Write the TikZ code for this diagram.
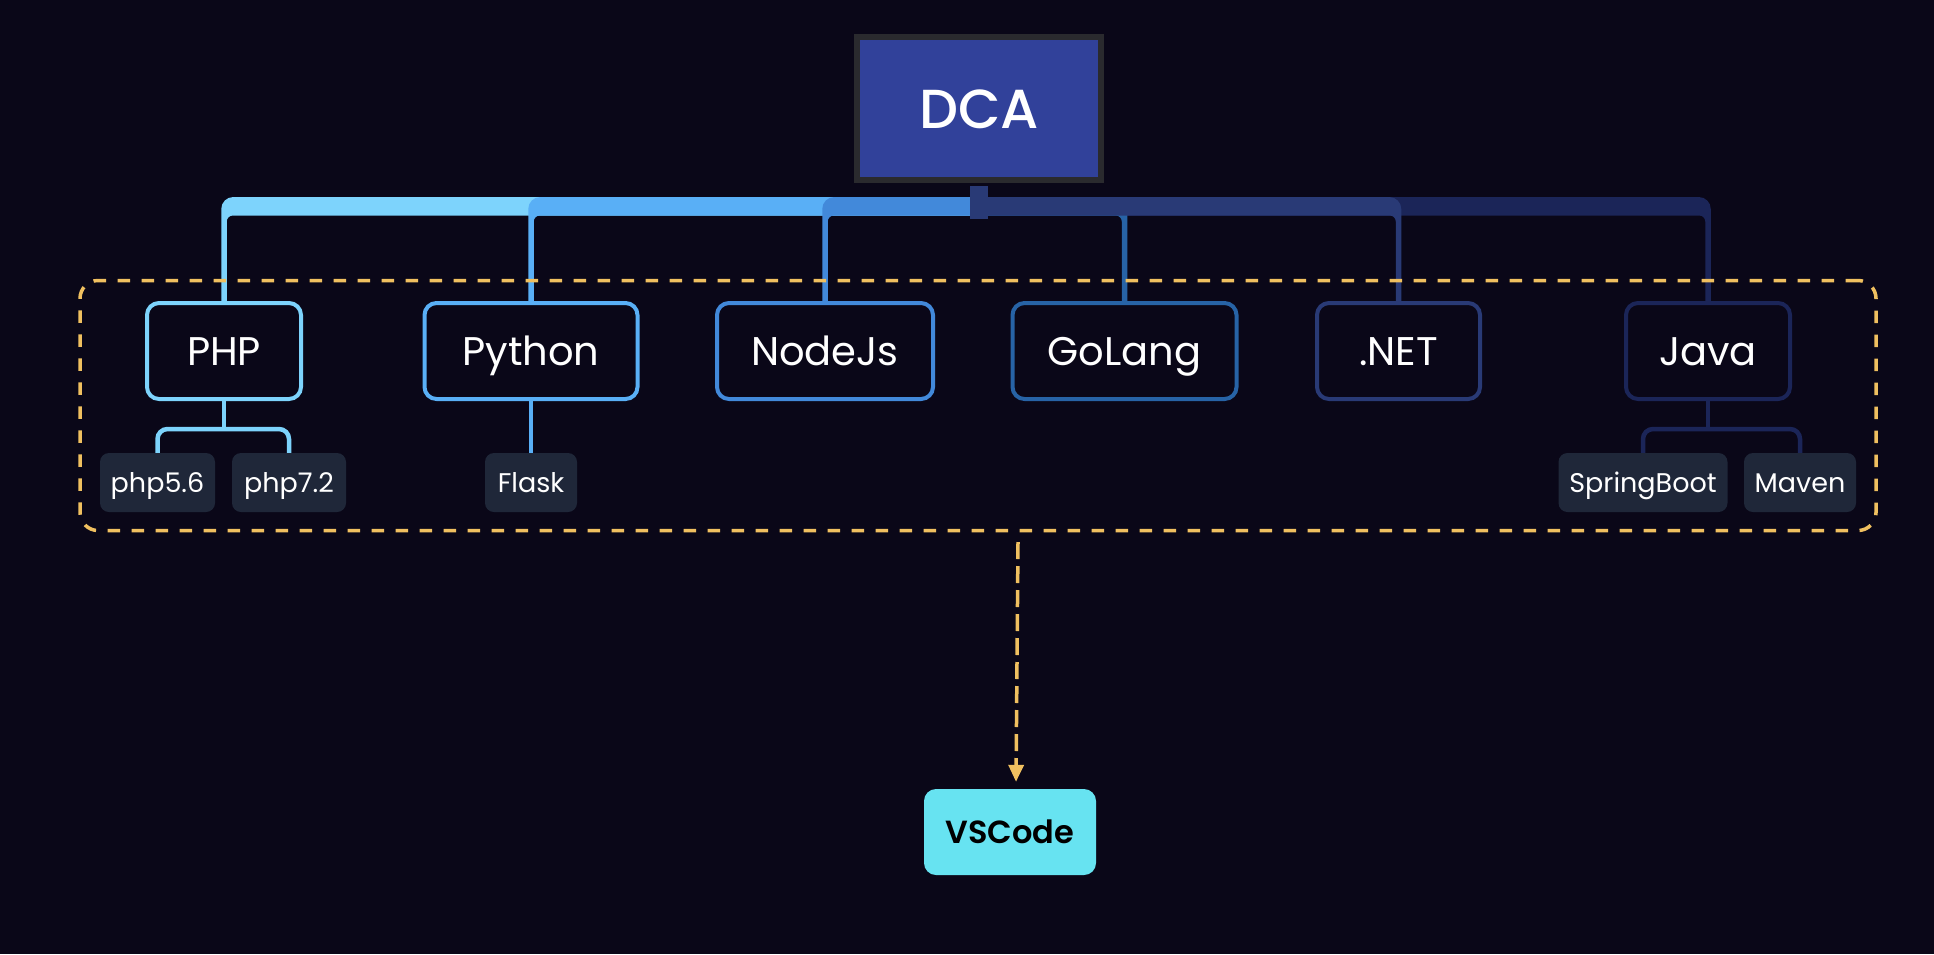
\documentclass[tikz,border=0pt]{standalone}
\usepackage{fontspec}
\setmainfont{Poppins}
\newfontfamily\mymedfont{Poppins Medium}
\newfontfamily\mysemifont{Poppins SemiBold}
\usetikzlibrary{arrows.meta,calc}
\definecolor{bg}{HTML}{0A0718}
\definecolor{phpc}{HTML}{7DD3FC}
\definecolor{pyc}{HTML}{59AFF6}
\definecolor{nodec}{HTML}{4289DA}
\definecolor{goc}{HTML}{2763A6}
\definecolor{netc}{HTML}{293A76}
\definecolor{javac}{HTML}{1B2558}
\definecolor{dcaf}{HTML}{31419A}
\definecolor{dcab}{HTML}{2A2A2E}
\definecolor{subf}{HTML}{1F2739}
\definecolor{dashc}{HTML}{F0C060}
\definecolor{vsc}{HTML}{67E3F1}
\newcommand\mybrL[2]{%
  \fill[#1] let \p1=(#2.north), \p2=(dca.south) in
    (\x1-2.75pt,\y1-1pt) -- (\x1-2.75pt,-209pt) arc[start angle=180,end angle=90,radius=12pt]
    -- (\x2,-197pt) -- (\x2,-215.5pt) -- (\x1+8.75pt,-215.5pt) arc[start angle=90,end angle=180,radius=6pt]
    -- (\x1+2.75pt,\y1-1pt) -- cycle;}
\newcommand\mybrR[2]{%
  \fill[#1] let \p1=(#2.north), \p2=(dca.south) in
    (\x1+2.75pt,\y1-1pt) -- (\x1+2.75pt,-209pt) arc[start angle=0,end angle=90,radius=12pt]
    -- (\x2,-197pt) -- (\x2,-215.5pt) -- (\x1-8.75pt,-215.5pt) arc[start angle=90,end angle=0,radius=6pt]
    -- (\x1-2.75pt,\y1-1pt) -- cycle;}
\begin{document}
\begin{tikzpicture}[x=1pt,y=1pt,
  mainbox/.style={draw, line width=4pt, rounded corners=12pt, fill=bg, text=white,
    font=\fontsize{40}{40}\selectfont, text height=28pt, text depth=0pt,
    minimum height=96pt, inner sep=0pt},
  subbox/.style={fill=subf, rounded corners=9pt, text=white,
    font=\fontsize{27}{27}\selectfont, text height=20pt, text depth=0pt,
    minimum height=59pt, inner sep=0pt},
  subline/.style={line width=4.5pt, rounded corners=10pt},
  dashbox/.style={draw=dashc, line width=3.5pt, dash pattern=on 12.5pt off 11.5pt, rounded corners=18pt},
  arr/.style={draw=dashc, line width=3.5pt, dash pattern=on 17pt off 7pt, -{Triangle[length=17pt,width=15pt]}}
]
\fill[bg] (0,0) rectangle (1934,-954);

% root
\node[draw=dcab, fill=dcaf, line width=6pt, minimum width=244pt, minimum height=143pt, inner sep=0pt,
  text=white, font=\fontsize{55}{55}\selectfont\mymedfont, text height=39pt, text depth=0pt]
  (dca) at (979,-108.5) {DCA};

% main children
\node[mainbox, draw=phpc, minimum width=154pt] (php) at (224,-351) {PHP};
\node[mainbox, draw=pyc, minimum width=213pt] (python) at (531,-351) {Python};
\node[mainbox, draw=nodec, minimum width=216pt] (nodejs) at (825,-351) {NodeJs};
\node[mainbox, draw=goc, minimum width=224pt] (golang) at (1124.5,-351) {GoLang};
\node[mainbox, draw=netc, minimum width=163pt] (dotnet) at (1398.5,-351) {.NET};
\node[mainbox, draw=javac, minimum width=164pt] (java) at (1708,-351) {Java};

% sub children
\node[subbox, minimum width=115pt] (php56) at (157.5,-482.5) {php5.6};
\node[subbox, minimum width=114pt] (php72) at (289,-482.5) {php7.2};
\node[subbox, minimum width=92pt] (flask) at (531,-482.5) {Flask};
\node[subbox, minimum width=169pt] (spring) at (1643,-482.5) {SpringBoot};
\node[subbox, minimum width=112pt] (maven) at (1800,-482.5) {Maven};

% branches from root
\mybrL{phpc}{php}
\mybrL{pyc}{python}
\mybrL{nodec}{nodejs}
\mybrR{javac}{java}
\mybrR{goc}{golang}
\mybrR{netc}{dotnet}
\fill[netc] ($(dca.south)+(-9pt,-3pt)$) rectangle ($(dca.south)+(9pt,-35.5pt)$);

% sub branches
\coordinate (phpm) at ($(php.south)+(0,-28pt)$);
\draw[subline, phpc] (php56.north) |- (phpm) -| (php72.north);
\draw[subline, phpc] (php.south) -- (phpm);
\draw[subline, pyc] (python.south) -- (flask.north);
\coordinate (javam) at ($(java.south)+(0,-28pt)$);
\draw[subline, javac] (spring.north) |- (javam) -| (maven.north);
\draw[subline, javac] (java.south) -- (javam);

% group and target
\node[dashbox, minimum width=1796pt, minimum height=250pt, inner sep=0pt] (grp) at (978,-405.5) {};
\node[fill=vsc, rounded corners=12pt, minimum width=172pt, minimum height=86pt, inner sep=0pt,
  text=black, font=\fontsize{32}{32}\selectfont\mysemifont, text height=22.7pt, text depth=0pt]
  (vscode) at (1010,-832) {VSCode};
\coordinate (as) at (1018,-542);
\draw[arr] (as) -- ([xshift=6pt,yshift=7pt]vscode.north);
\end{tikzpicture}
\end{document}
